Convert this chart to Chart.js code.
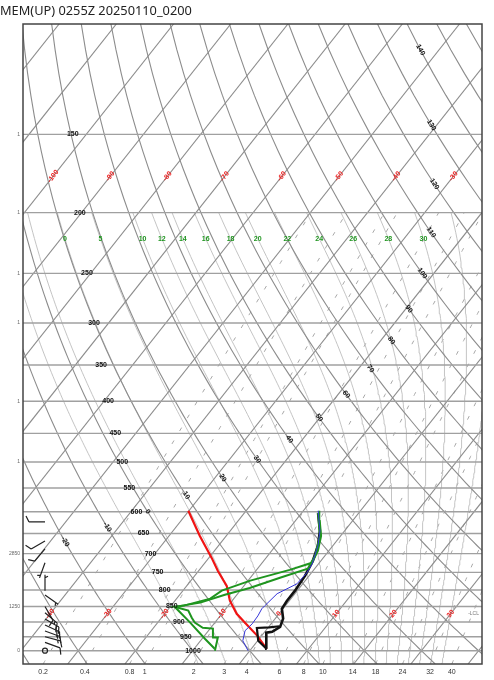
<!DOCTYPE html>
<html>
<head>
<meta charset="utf-8">
<script src="https://cdn.jsdelivr.net/npm/chart.js@4.4.1/dist/chart.umd.min.js"></script>
<style>
  html, body { margin: 0; padding: 0; background: #fff; }
  canvas { display: block; }
</style>
</head>
<body>
<canvas id="skewt" width="494" height="680"></canvas>
<script>
const title = "MEM(UP) 0255Z 20250110_0200";

// reference lines of the diagram (values only; curves follow from them)
const isobars = [150, 200, 250, 300, 350, 400, 450, 500, 550, 600, 650, 700, 750, 800, 850, 900, 950, 1000];
const isotherms = [-130, -120, -110, -100, -90, -80, -70, -60, -50, -40, -30, -20, -10, 0, 10, 20, 30, 40];
const dryAdiabats = [-40, -30, -20, -10, 0, 10, 20, 30, 40, 50, 60, 70, 80, 90, 100, 110, 120, 130, 140, 150, 160, 170, 180, 190, 200];
const moistAdiabats = [-10, -5, 0, 5, 10, 12, 14, 16, 18, 20, 22, 24, 26, 28, 30, 32, 34];
const mixingRatios = [0.2, 0.4, 0.8, 1, 2, 3, 4, 6, 8, 10, 14, 18, 24, 32, 40];

// labels
const isothermLabelsUpper = [-100, -90, -80, -70, -60, -50, -40, -30];
const isothermLabelsLower = [-40, -30, -20, -10, 0, 10, 20, 30];
const dryLabels = [-20, -10, 0, 10, 20, 30, 40, 50, 60, 70, 80, 90, 100, 110, 120, 130, 140];
const moistLabels = [0, 5, 10, 12, 14, 16, 18, 20, 22, 24, 26, 28, 30];
const heightP = [150, 200, 250, 300, 400, 500, 700, 850, 1000];
const heightText = ["1", "1", "1", "1", "1", "1", "2850", "1250", "0"];

// soundings (hPa, degC)
const redP = [993, 946, 909, 873, 832, 788, 746, 711, 656, 598];
const redT = [2.7, -0.8, -4.1, -7.4, -10.4, -13.0, -16.6, -19.5, -24.6, -30.1];

const blackP = [993, 936, 933, 916, 889, 857, 833, 802, 759, 719, 680, 644, 603];
const blackT = [2.7, 0.4, 1.3, 2.0, 1.4, -0.2, -0.4, -0.4, -0.7, -1.4, -2.6, -4.3, -7.1];
const black2P = [990, 964, 920, 918, 914];
const black2T = [2.4, 0.1, -1.9, 0.2, 1.8];

const greenAP = [1000, 953, 953, 922, 919, 902, 886, 863, 851, 848, 826, 802, 773, 743, 724, 693, 656, 621, 598];
const greenAT = [-6.1, -7.4, -8.4, -9.5, -11.4, -13.5, -14.7, -16.3, -19.2, -17.9, -14.1, -13.2, -9.6, -4.2, -1.3, -1.9, -3.4, -5.7, -7.2];
const greenBP = [993, 957, 902, 851, 838, 814, 794, 765, 740, 706, 656, 603];
const greenBT = [-6.4, -9.5, -14.3, -19.2, -15.3, -12.1, -8.7, -4.8, -1.2, -1.7, -3.6, -7.1];

const blueP = [1000, 964, 929, 906, 880, 857, 848, 811, 782, 751, 727, 680, 644, 598];
const blueT = [-0.3, -2.6, -3.6, -3.3, -3.4, -3.7, -3.6, -3.1, -1.0, -0.8, -1.1, -2.6, -4.3, -7.4];

// wind barbs (hPa, deg, kt)
const windP = [623, 668, 688, 724, 802, 815, 850, 870, 890, 910, 930, 950, 970, 1000];
const windDir = [270, 240, 220, 200, 360, 125, 150, 130, 120, 115, 110, 105, 110, 0];
const windSpd = [10, 10, 10, 5, 5, 5, 10, 15, 20, 20, 15, 15, 10, 0];

const SKEW = 37.64;
const skewX = (t, p) => t + SKEW * Math.log(1000 / p);
const toPts = (ps, ts) => ps.map((p, i) => ({ x: skewX(ts[i], p), y: p }));

const dryT = (th, p) => (th + 273.15) * Math.pow(p / 1000, 0.2857) - 273.15;

function mixT(w, p) {
  const e = (w * p) / (622 + w);
  const l = Math.log(e / 6.112);
  return (243.5 * l) / (17.67 - l);
}

function satMix(tc, p) {
  const es = 6.112 * Math.exp((17.67 * tc) / (tc + 243.5));
  return (0.622 * es) / (p - es);
}

function moistLapse(tk, p) {
  const rs = satMix(tk - 273.15, p);
  const Rd = 287.04, Cp = 1005.7, Lv = 2.501e6;
  return (Rd * tk + Lv * rs) / (Cp + (Lv * Lv * rs * 0.622) / (Rd * tk * tk)) / p;
}

function moistProfile(tw) {
  const up = [], down = [];
  let t = tw + 273.15;
  for (let p = 1000; p >= 200; p -= 5) {
    up.push({ p, t: t - 273.15 });
    const k1 = moistLapse(t, p);
    t -= 5 * moistLapse(t - 2.5 * k1, p - 2.5);
  }
  t = tw + 273.15;
  for (let p = 1000; p <= 1050; p += 5) {
    down.push({ p, t: t - 273.15 });
    const k1 = moistLapse(t, p);
    t += 5 * moistLapse(t + 2.5 * k1, p + 2.5);
  }
  return down.reverse().concat(up.slice(1));
}

const moistCurves = {};
moistAdiabats.forEach((tw) => { moistCurves[tw] = moistProfile(tw); });

const gridLine = (data, color, width, dash) => ({
  data, borderColor: color, borderWidth: width, borderDash: dash || [],
  showLine: true, pointRadius: 0, order: 10,
});
const profLine = (data, color, width) => ({
  data, borderColor: color, borderWidth: width, showLine: true, pointRadius: 0, order: 0,
});

const datasets = [
  profLine(toPts(blueP, blueT), "#3535d8", 1),
  profLine(toPts(greenBP, greenBT), "#1f951f", 2),
  profLine(toPts(greenAP, greenAT), "#1f951f", 2),
  profLine(toPts(black2P, black2T), "#111", 2.2),
  profLine(toPts(blackP, blackT), "#111", 2.6),
  profLine(toPts(redP, redT), "#f01414", 2.2),
];

isobars.forEach((p) => {
  datasets.push(gridLine([{ x: -40, y: p }, { x: 41, y: p }], "#a0a0a0", 1.4));
});
isotherms.forEach((t) => {
  datasets.push(gridLine([{ x: skewX(t, 1050), y: 1050 }, { x: skewX(t, 100), y: 100 }], "#8c8c8c", 1.1));
});
dryAdiabats.forEach((th) => {
  const d = [];
  for (let p = 1050; p >= 100; p -= 10) d.push({ x: skewX(dryT(th, p), p), y: p });
  datasets.push(gridLine(d, "#8c8c8c", 1.1));
});
moistAdiabats.forEach((tw) => {
  datasets.push(gridLine(moistCurves[tw].map((o) => ({ x: skewX(o.t, o.p), y: o.p })), "#bdbdbd", 0.9));
});
mixingRatios.forEach((w) => {
  const d = [];
  for (let p = 1050; p >= 200; p -= 10) d.push({ x: skewX(mixT(w, p), p), y: p });
  datasets.push(gridLine(d, "#a8a8a8", 1, [4, 11]));
});

function drawBarb(ctx, x, y, dir, spd) {
  if (spd < 2.5) {
    ctx.beginPath();
    ctx.arc(x, y, 2.5, 0, 2 * Math.PI);
    ctx.stroke();
    return;
  }
  const a = (dir * Math.PI) / 180;
  const dx = Math.sin(a), dy = -Math.cos(a);
  const px = -dy, py = dx;
  const L = 16;
  const ex = x + dx * L, ey = y + dy * L;
  ctx.beginPath();
  ctx.moveTo(x, y);
  ctx.lineTo(ex, ey);
  let s = spd, pos = 0;
  while (s >= 7.5) {
    const sx = ex - dx * pos, sy = ey - dy * pos;
    ctx.moveTo(sx, sy);
    ctx.lineTo(sx + px * 6 + dx * 3, sy + py * 6 + dy * 3);
    pos += 3;
    s -= 10;
  }
  if (s >= 2.5) {
    if (pos === 0) pos = 3;
    const sx = ex - dx * pos, sy = ey - dy * pos;
    ctx.moveTo(sx, sy);
    ctx.lineTo(sx + px * 3 + dx * 1.5, sy + py * 3 + dy * 1.5);
  }
  ctx.stroke();
}

const skewDecor = {
  id: "skewDecor",
  afterDatasetsDraw(chart) {
    const { ctx, chartArea: a, scales } = chart;
    const X = (v) => scales.x.getPixelForValue(v);
    const Y = (p) => scales.y.getPixelForValue(p);
    ctx.save();

    ctx.strokeStyle = "#444";
    ctx.lineWidth = 1.5;
    ctx.strokeRect(a.left, a.top, a.right - a.left, a.bottom - a.top);

    ctx.textAlign = "center";
    ctx.textBaseline = "middle";

    // pressure labels
    ctx.font = 'bold 7px "Liberation Sans"';
    ctx.fillStyle = "#111";
    isobars.forEach((p) => ctx.fillText(String(p), X(-34.65 + 0.02472 * p), Y(p)));

    // height labels left of the frame
    ctx.font = '5px "Liberation Sans"';
    ctx.fillStyle = "#666";
    ctx.textAlign = "right";
    heightP.forEach((p, i) => ctx.fillText(heightText[i], a.left - 3, Y(p)));
    ctx.textAlign = "center";

    const rot = (x0, y0, ang, txt) => {
      ctx.save();
      ctx.translate(x0, y0);
      ctx.rotate(ang);
      ctx.fillText(txt, 0, 0);
      ctx.restore();
    };

    // isotherm labels
    const isoAng = Math.atan2(Y(100) - Y(1000), X(skewX(0, 100)) - X(skewX(0, 1000)));
    ctx.font = 'bold 7px "Liberation Sans"';
    ctx.fillStyle = "#ee2222";
    isothermLabelsUpper.forEach((t) => rot(X(skewX(t, 175)), Y(175), isoAng, String(t)));
    isothermLabelsLower.forEach((t) => rot(X(skewX(t, 873)), Y(873), isoAng, String(t)));

    // dry adiabat labels
    ctx.fillStyle = "#111";
    dryLabels.forEach((th) => {
      const p = 600 - 3.5 * th;
      const x1 = X(skewX(dryT(th, p - 10), p - 10)), y1 = Y(p - 10);
      const x2 = X(skewX(dryT(th, p + 10), p + 10)), y2 = Y(p + 10);
      rot(X(skewX(dryT(th, p), p)), Y(p), Math.atan2(y2 - y1, x2 - x1), String(th));
    });

    // moist adiabat labels
    ctx.fillStyle = "#1f951f";
    moistLabels.forEach((tw) => {
      const o = moistCurves[tw].find((q) => q.p === 220);
      ctx.fillText(String(tw), X(skewX(o.t, 220)), Y(220));
    });

    // mixing ratio labels under the frame
    ctx.font = '7px "Liberation Sans"';
    ctx.fillStyle = "#333";
    mixingRatios.forEach((w) => ctx.fillText(String(w), X(skewX(mixT(w, 1050), 1050)), a.bottom + 8));

    ctx.font = '5px "Liberation Sans"';
    ctx.fillStyle = "#777";
    ctx.textAlign = "right";
    ctx.fillText("-LCL", a.right - 3, Y(873));

    // wind barbs
    ctx.strokeStyle = "#222";
    ctx.lineWidth = 1.2;
    windP.forEach((p, i) => drawBarb(ctx, a.left + 22, Y(p), windDir[i], windSpd[i]));

    // title
    ctx.font = '12.8px "Noto Sans"';
    ctx.fillStyle = "#222";
    ctx.textAlign = "left";
    ctx.textBaseline = "alphabetic";
    ctx.fillText(title, 0, 15);

    ctx.restore();
  },
};

new Chart(document.getElementById("skewt"), {
  type: "scatter",
  data: { datasets },
  options: {
    responsive: false,
    animation: false,
    devicePixelRatio: 1,
    layout: { padding: { left: 23, top: 24, right: 12, bottom: 16 } },
    scales: {
      x: { type: "linear", min: -39.65, max: 40.6, display: false },
      y: { type: "logarithmic", min: 100, max: 1050, reverse: true, display: false },
    },
    plugins: { legend: { display: false }, tooltip: { enabled: false } },
  },
  plugins: [skewDecor],
});
</script>
</body>
</html>
